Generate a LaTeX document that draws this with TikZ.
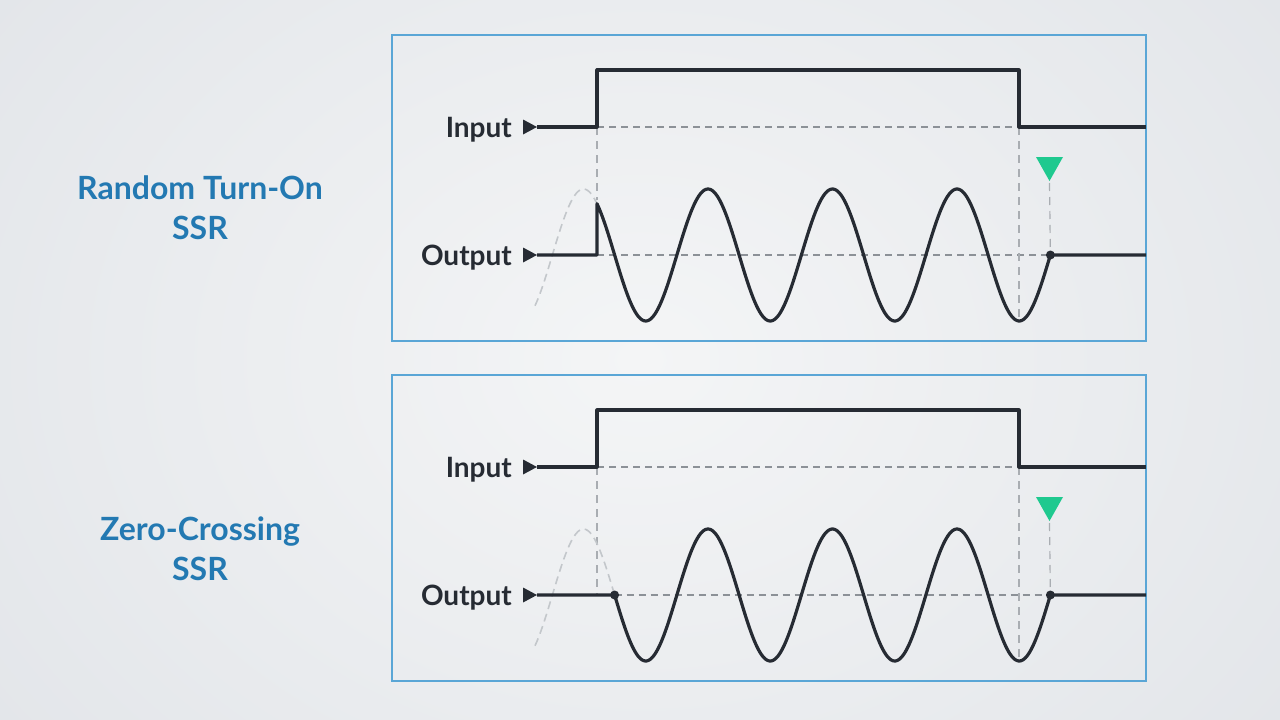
\documentclass[tikz,border=0pt]{standalone}
\usepackage{fontspec}
\setmainfont{Lato}
\definecolor{ink}{HTML}{262B33}
\definecolor{titleblue}{HTML}{2379B2}
\definecolor{frame}{HTML}{5AA6D6}
\definecolor{hgray}{HTML}{8C9197}
\definecolor{vgray}{HTML}{A9ADB2}
\definecolor{ghostgray}{HTML}{C3C7CB}
\definecolor{greenmark}{HTML}{1FC98F}
\definecolor{bgin}{HTML}{F4F5F6}
\definecolor{bgout}{HTML}{E2E5E9}
\tikzset{
  panel/.style={draw=frame, line width=1.5pt, minimum width=754pt, minimum height=306pt, inner sep=0pt},
  lbl/.style={font=\fontsize{28}{30}\selectfont\bfseries, text=ink, inner sep=0pt},
  ttl/.style={font=\fontsize{32}{40}\selectfont\bfseries, text=titleblue, align=center, inner sep=0pt},
  wave/.style={draw=ink, line width=3.2pt, line join=round},
  hdash/.style={draw=hgray, line width=1.2pt, dash pattern=on 7pt off 5pt},
  vdash/.style={draw=vgray, line width=1.2pt, dash pattern=on 8pt off 6pt},
  ghost/.style={draw=ghostgray, line width=1.6pt, dash pattern=on 8pt off 5pt},
  dotmark/.style={circle, fill=ink, minimum size=9pt, inner sep=0pt},
  greentri/.style={fill=greenmark},
}
\newcommand{\sinewave}[1]{#1-66*cos(deg(2*pi*(\x-583.5)/124.5))}
\begin{document}
\begin{tikzpicture}[x=1pt,y=-1pt]
\useasboundingbox (0,0) rectangle (1280,720);
\shade[inner color=bgin, outer color=bgout] (-200,-300) rectangle (1480,1020);

% ---------- top panel ----------
\node[panel] (p1) at (769,188) {};
\node[ttl] (t1) at (200,208) {Random Turn-On\\SSR};
\node[lbl, anchor=base east] (in1) at (512,137) {Input};
\node[lbl, anchor=base east] (out1) at (512,265) {Output};
\coordinate (a1) at (537,127);
\coordinate (b1) at (537,255);
\fill[ink] (523,119.5) -- (a1) -- (523,134.5) -- cycle;
\fill[ink] (523,247.5) -- (b1) -- (523,262.5) -- cycle;
\coordinate (on1) at (597,127);
\coordinate (off1) at (1019,127);
\coordinate (z1) at (1050.4,255);
\draw[hdash] (on1) -- (off1);
\draw[hdash] (597,255) -- (z1);
\draw[vdash] (on1) -- (597,200);
\draw[vdash] (off1) -- (1019,321);
\draw[vdash] (1049.5,183) -- (z1);
\draw[ghost] plot[domain=535:597, samples=40] (\x, {\sinewave{255}});
\draw[wave] (a1) -- (on1) -- (597,70) -- (1019,70) -- (off1) -- (1146,127);
\draw[wave] (b1) -- (597,255) -- plot[domain=597:1050.4, samples=300] (\x, {\sinewave{255}}) -- (1146,255);
\node[dotmark] (d1) at (z1) {};
\fill[greentri] (1036,157) -- (1063,157) -- (1049.5,181) -- cycle;

% ---------- bottom panel ----------
\node[panel] (p2) at (769,528) {};
\node[ttl] (t2) at (200,549) {Zero-Crossing\\SSR};
\node[lbl, anchor=base east] (in2) at (512,477) {Input};
\node[lbl, anchor=base east] (out2) at (512,605) {Output};
\coordinate (a2) at (537,467);
\coordinate (b2) at (537,595);
\fill[ink] (523,459.5) -- (a2) -- (523,474.5) -- cycle;
\fill[ink] (523,587.5) -- (b2) -- (523,602.5) -- cycle;
\coordinate (on2) at (597,467);
\coordinate (off2) at (1019,467);
\coordinate (s2) at (614.6,595);
\coordinate (z2) at (1050.4,595);
\draw[hdash] (on2) -- (off2);
\draw[hdash] (s2) -- (z2);
\draw[vdash] (on2) -- (597,595);
\draw[vdash] (off2) -- (1019,661);
\draw[vdash] (1049.5,523) -- (z2);
\draw[ghost] plot[domain=535:614.6, samples=40] (\x, {\sinewave{595}});
\draw[wave] (a2) -- (on2) -- (597,410) -- (1019,410) -- (off2) -- (1146,467);
\draw[wave] (b2) -- (s2) -- plot[domain=614.6:1050.4, samples=300] (\x, {\sinewave{595}}) -- (1146,595);
\node[dotmark] (e2) at (s2) {};
\node[dotmark] (d2) at (z2) {};
\fill[greentri] (1036,497) -- (1063,497) -- (1049.5,521) -- cycle;
\end{tikzpicture}
\end{document}
